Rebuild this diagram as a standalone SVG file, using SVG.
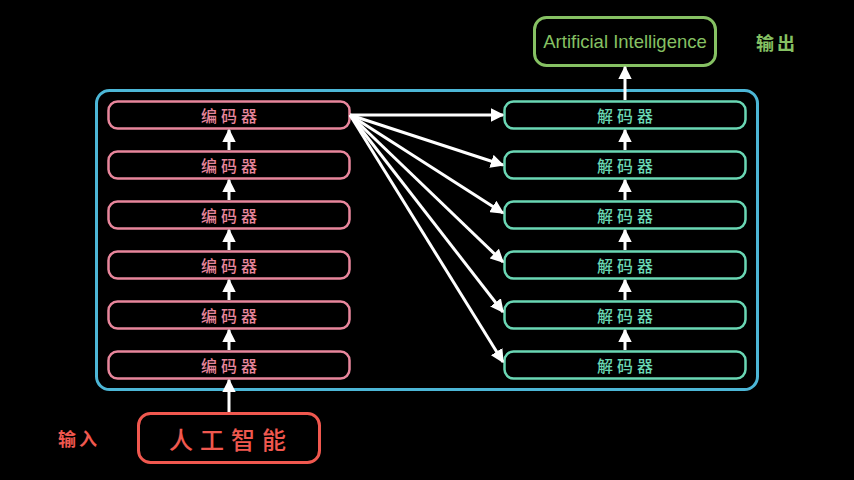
<svg xmlns="http://www.w3.org/2000/svg" width="854" height="480" viewBox="0 0 854 480">
<defs>
<marker id="a" viewBox="0 0 10 10" refX="9" refY="5" markerWidth="4.5" markerHeight="4.5" orient="auto">
<path d="M0,0 L10,5 L0,10 Z" fill="#ffffff"/>
</marker>
</defs>
<style>
.enc rect{fill:none;stroke:#e8869c;stroke-width:2.5}
.enc text{fill:#e8869c}
.dec rect{fill:none;stroke:#6ad7b4;stroke-width:2.5}
.dec text{fill:#6ad7b4}
text{font-family:"Noto Sans CJK SC","Noto Sans",sans-serif;text-anchor:middle;dominant-baseline:central}
.lbl{font-size:16px;letter-spacing:4px;font-weight:500}
.con line{stroke:#ffffff;stroke-width:3;marker-end:url(#a)}
</style>
<rect width="854" height="480" fill="#000000"/>
<g id="container"><rect x="96.5" y="90.5" width="661" height="299" rx="13" fill="none" stroke="#4cb6d6" stroke-width="3"/></g>
<g id="enc1" class="enc"><rect x="108.5" y="101.5" width="241" height="27" rx="9"/><text class="lbl" x="231" y="115">编码器</text></g>
<g id="enc2" class="enc"><rect x="108.5" y="151.5" width="241" height="27" rx="9"/><text class="lbl" x="231" y="165">编码器</text></g>
<g id="enc3" class="enc"><rect x="108.5" y="201.5" width="241" height="27" rx="9"/><text class="lbl" x="231" y="215">编码器</text></g>
<g id="enc4" class="enc"><rect x="108.5" y="251.5" width="241" height="27" rx="9"/><text class="lbl" x="231" y="265">编码器</text></g>
<g id="enc5" class="enc"><rect x="108.5" y="301.5" width="241" height="27" rx="9"/><text class="lbl" x="231" y="315">编码器</text></g>
<g id="enc6" class="enc"><rect x="108.5" y="351.5" width="241" height="27" rx="9"/><text class="lbl" x="231" y="365">编码器</text></g>
<g id="dec1" class="dec"><rect x="504.5" y="101.5" width="241" height="27" rx="9"/><text class="lbl" x="627" y="115">解码器</text></g>
<g id="dec2" class="dec"><rect x="504.5" y="151.5" width="241" height="27" rx="9"/><text class="lbl" x="627" y="165">解码器</text></g>
<g id="dec3" class="dec"><rect x="504.5" y="201.5" width="241" height="27" rx="9"/><text class="lbl" x="627" y="215">解码器</text></g>
<g id="dec4" class="dec"><rect x="504.5" y="251.5" width="241" height="27" rx="9"/><text class="lbl" x="627" y="265">解码器</text></g>
<g id="dec5" class="dec"><rect x="504.5" y="301.5" width="241" height="27" rx="9"/><text class="lbl" x="627" y="315">解码器</text></g>
<g id="dec6" class="dec"><rect x="504.5" y="351.5" width="241" height="27" rx="9"/><text class="lbl" x="627" y="365">解码器</text></g>
<g id="input"><rect x="138.5" y="413.5" width="181" height="49" rx="12" fill="none" stroke="#f0584f" stroke-width="3"/><text x="231" y="438" font-size="24" letter-spacing="7" font-weight="500" fill="#f0584f">人工智能</text></g>
<g id="output"><rect x="534.5" y="17.5" width="181" height="48" rx="12" fill="none" stroke="#86c163" stroke-width="3"/><text x="625" y="41" font-size="18.5" fill="#86c163" style="font-family:'Liberation Sans',sans-serif">Artificial Intelligence</text></g>
<g id="label-in"><text x="79" y="438" font-size="18" letter-spacing="3" fill="#f0584f" font-weight="bold">输入</text></g>
<g id="label-out"><text x="777" y="42" font-size="18" letter-spacing="3" fill="#86c163" font-weight="bold">输出</text></g>
<g id="connectors" class="con">
<line x1="229" y1="412" x2="229" y2="380"/>
<line x1="229" y1="350" x2="229" y2="330"/>
<line x1="229" y1="300" x2="229" y2="280"/>
<line x1="229" y1="250" x2="229" y2="230"/>
<line x1="229" y1="200" x2="229" y2="180"/>
<line x1="229" y1="150" x2="229" y2="130"/>
<line x1="625" y1="350" x2="625" y2="330"/>
<line x1="625" y1="300" x2="625" y2="280"/>
<line x1="625" y1="250" x2="625" y2="230"/>
<line x1="625" y1="200" x2="625" y2="180"/>
<line x1="625" y1="150" x2="625" y2="130"/>
<line x1="625" y1="100" x2="625" y2="67"/>
<line x1="350" y1="115" x2="503" y2="115"/>
<line x1="350" y1="115" x2="503" y2="165"/>
<line x1="350" y1="115" x2="503" y2="213"/>
<line x1="350" y1="115" x2="503" y2="262"/>
<line x1="350" y1="115" x2="503" y2="312"/>
<line x1="350" y1="115" x2="503" y2="362"/>
</g>
</svg>
